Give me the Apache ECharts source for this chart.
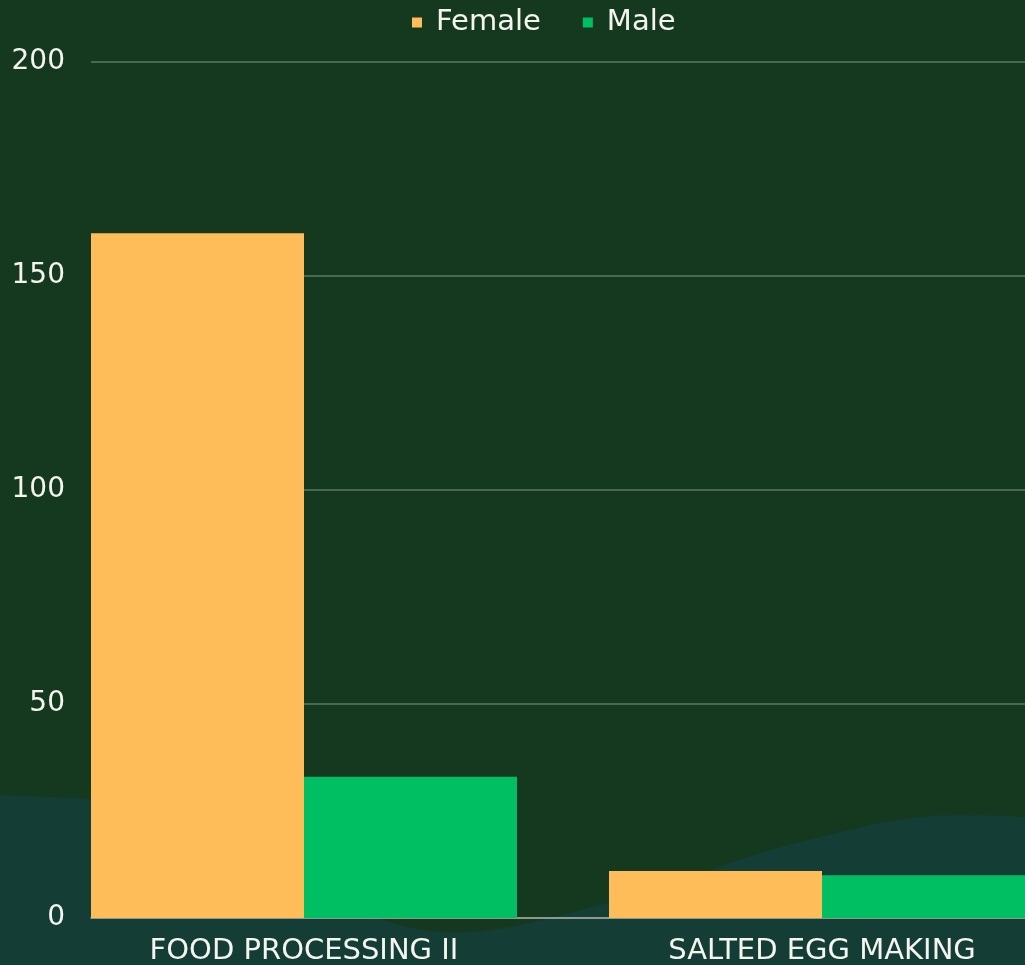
<!DOCTYPE html>
<html>
<head>
<meta charset="utf-8">
<script src="https://cdn.jsdelivr.net/npm/echarts@6/dist/echarts.min.js"></script>
<style>
  html, body { margin: 0; padding: 0; background: #14391e; }
  #myCharts { width: 1025px; height: 965px; }
</style>
</head>
<body>
<div id="myCharts"></div>
<script>
// categories + values
const categories = ["FOOD PROCESSING II", "SALTED EGG MAKING"];
const femaleData = [160, 11];
const maleData = [33, 10];
const yTicks = [0, 50, 100, 150, 200];

const font = "'DejaVu Sans', sans-serif";
const myCharts = echarts.init(document.getElementById("myCharts"));

let options = {
  backgroundColor: "#14391e",
  textStyle: { fontFamily: font },
  graphic: [
    {
      // background wave (decoration only)
      type: "polygon",
      z: -10,
      shape: {
        smooth: 0.35,
        points: [
          [-200, 790], [0, 795], [150, 810], [300, 885], [440, 932],
          [600, 905], [800, 842], [965, 815], [1100, 850],
          [1300, 1300], [-300, 1300],
        ],
      },
      style: { fill: "#143d36" },
    },
  ],
  legend: {
    top: 3,
    left: 407,
    icon: "rect",
    itemWidth: 10,
    itemHeight: 10,
    itemGap: 42,
    textStyle: { color: "#f5f5f0", fontSize: 29, padding: [0, 0, 0, 9] },
    data: ["Female", "Male"],
  },
  grid: [
    // grid for the y labels, split lines and axis line
    { left: 91, right: 0, top: 62, height: 856, outerBoundsMode: "none" },
    // grid for bars, widened so the groups sit like the reference
    { left: 45, width: 1036, top: 62, height: 856, outerBoundsMode: "none" },
  ],
  xAxis: [
    {
      gridIndex: 0,
      type: "value",
      min: 0,
      max: 1,
      axisLine: { show: true, lineStyle: { color: "#a3aaa3", width: 1.5 } },
      axisTick: { show: false },
      axisLabel: { show: false },
      splitLine: { show: false },
    },
    {
      gridIndex: 1,
      type: "category",
      data: categories,
      axisLine: { show: false },
      axisTick: { show: false },
      axisLabel: { color: "#f5f5f0", fontSize: 29, margin: 19 },
    },
  ],
  yAxis: [
    {
      gridIndex: 0,
      type: "value",
      min: 0,
      max: 200,
      interval: 50,
      axisLine: { show: false },
      axisTick: { show: false },
      axisLabel: {
        color: "#f5f5f0",
        fontSize: 28,
        margin: 26,
        formatter: (v) => (yTicks.includes(v) ? String(v) : ""),
      },
      splitLine: { lineStyle: { color: "#5e7a62", width: 1.5 } },
    },
    {
      gridIndex: 1,
      type: "value",
      min: 0,
      max: 200,
      show: false,
    },
  ],
  series: [
    {
      name: "Female",
      type: "bar",
      xAxisIndex: 1,
      yAxisIndex: 1,
      barWidth: 213,
      barGap: "0%",
      itemStyle: { color: "#ffbd59" },
      data: femaleData,
    },
    {
      name: "Male",
      type: "bar",
      xAxisIndex: 1,
      yAxisIndex: 1,
      barWidth: 213,
      barGap: "0%",
      itemStyle: { color: "#00bf63" },
      data: maleData,
    },
  ],
};
myCharts.setOption(options);
</script>
</body>
</html>
